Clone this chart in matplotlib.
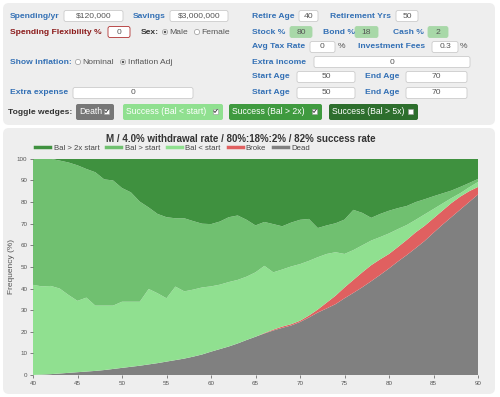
import matplotlib
matplotlib.use('Agg')
import matplotlib.pyplot as plt
from matplotlib.patches import FancyBboxPatch, Circle, Rectangle
from matplotlib.lines import Line2D

plt.rcParams['font.family'] = ['Liberation Sans', 'DejaVu Sans']

# dados do gráfico (frequência em % por idade)
idades = list(range(40, 91))
dead = [0, 0.2, 0.4, 0.7, 1.0, 1.3, 1.6, 1.9, 2.3, 2.8,
        3.3, 3.8, 4.3, 4.9, 5.5, 6.2, 6.9, 7.6, 8.5, 9.5,
        10.8, 12.0, 13.2, 14.6, 16.2, 17.7, 19.2, 20.6, 21.8, 22.9,
        24.5, 26.6, 28.9, 30.8, 32.8, 35.5, 38.0, 40.6, 43.4, 46.3,
        49.3, 52.5, 55.5, 58.7, 62.0, 65.8, 69.5, 73.0, 76.5, 80.0, 83.5]
broke = [0] * 26 + [0.2, 0.4, 0.6, 0.6, 0.6, 0.9, 1.4, 2.7, 3.9, 5.0,
                    6.0, 6.9, 7.4, 7.2, 6.7, 6.7, 7.0, 7.3, 7.0, 6.7,
                    6.5, 6.5, 6.0, 5.0, 3.5]
bal_menor = [41.7, 40.8, 40.8, 39.3, 36.0, 33.0, 34.2, 30.2, 29.8, 29.3,
             30.6, 30.1, 29.6, 34.9, 32.3, 29.3, 34.0, 31.1, 31.0, 31.0,
             30.2, 29.8, 29.8, 29.4, 29.3, 29.8, 31.1, 26.5, 26.4, 26.7,
             26.2, 25.3, 24.2, 22.5, 20.1, 15.5, 13.8, 12.5, 11.4, 10.3,
             9.5, 8.3, 6.9, 5.8, 5.3, 4.3, 3.3, 2.3, 1.6, 1.8, 2.3]
bal_maior = [58.3, 59.0, 58.8, 59.2, 61.3, 62.7, 59.5, 61.7, 58.4, 57.9,
             52.6, 50.6, 46.3, 37.7, 36.7, 37.5, 31.6, 33.8, 31.7, 29.5,
             28.8, 29.2, 30.0, 29.8, 26.3, 21.7, 20.3, 22.3, 20.0, 20.3,
             20.5, 19.4, 13.5, 13.2, 13.4, 15.9, 18.6, 15.0, 10.5, 10.7,
             10.5, 9.7, 8.8, 8.2, 7.0, 5.9, 4.7, 3.5, 2.9, 2.0, 1.4]
bal_2x = [0, 0, 0, 0.8, 1.7, 3.0, 4.7, 6.2, 9.5, 10.0,
          13.5, 15.5, 19.8, 22.5, 25.5, 27.0, 27.5, 27.5, 28.8, 30.0,
          30.2, 29.0, 27.0, 26.2, 28.2, 30.8, 29.2, 30.2, 31.2, 29.5,
          28.2, 27.8, 32.0, 30.8, 29.8, 28.1, 23.6, 25.0, 27.3, 25.5,
          24.0, 22.8, 21.8, 20.0, 18.7, 17.3, 16.0, 14.7, 13.0, 11.2, 9.3]

rotulos = ['Bal > 2x start', 'Bal > start', 'Bal < start', 'Broke', 'Dead']
cores = ['#3f913f', '#70c070', '#90e090', '#e06060', '#808080']
titulo = 'M / 4.0% withdrawal rate / 80%:18%:2% / 82% success rate'

azul = '#3370b5'
tam = 6.1

fig = plt.figure(figsize=(5, 3.97), dpi=100)
fundo = fig.add_axes([0, 0, 1, 1])
fundo.set_xlim(0, 500)
fundo.set_ylim(397, 0)
fundo.axis('off')

# paineis cinza
fundo.add_patch(FancyBboxPatch((3, 3), 492, 122, boxstyle='round,pad=0,rounding_size=6',
                               fc='#eeeeee', ec='none'))
fundo.add_patch(FancyBboxPatch((3, 128), 492, 266, boxstyle='round,pad=0,rounding_size=6',
                               fc='#eeeeee', ec='none'))


def rotulo(x, y, texto, cor=azul, peso='bold'):
    fundo.text(x, y, texto, color=cor, fontsize=tam, fontweight=peso, ha='left', va='center')


def caixa(x0, x1, y, texto, fc='white', ec='#cccccc'):
    fundo.add_patch(FancyBboxPatch((x0, y - 5.5), x1 - x0, 11, boxstyle='round,pad=0,rounding_size=2',
                                   fc=fc, ec=ec, lw=0.6))
    fundo.text((x0 + x1) / 2, y, texto, fontsize=tam, color='#555555', ha='center', va='center')


def radio(x, y, marcado):
    fundo.add_patch(Circle((x, y), 2.6, fc='white', ec='#999999', lw=0.5))
    if marcado:
        fundo.add_patch(Circle((x, y), 1.3, fc='#555555', ec='none'))


def botao(x0, x1, texto, cor, marcado=True):
    fundo.add_patch(FancyBboxPatch((x0, 104), x1 - x0, 16, boxstyle='round,pad=0,rounding_size=2',
                                   fc=cor, ec='none'))
    fundo.text(x0 + 3, 112, texto, fontsize=6.2, color='white', ha='left', va='center')
    fundo.add_patch(Rectangle((x1 - 10, 108.5), 5, 5, fc='white', ec='#999999', lw=0.4))
    if marcado:
        fundo.plot([x1 - 9.2, x1 - 8, x1 - 5.8], [111, 112.5, 109.5], color='#333333', lw=0.6)


# linha 1
rotulo(10, 16, 'Spending/yr')
caixa(64, 123, 16, '$120,000')
rotulo(133, 16, 'Savings')
caixa(170, 228, 16, '$3,000,000')
rotulo(252, 16, 'Retire Age')
caixa(299, 318, 16, '40')
rotulo(330, 16, 'Retirement Yrs')
caixa(396, 418, 16, '50')
# linha 2
rotulo(10, 32, 'Spending Flexibility %', cor='#8b1a1a')
caixa(108, 130, 32, '0', ec='#b03030')
rotulo(141, 32, 'Sex:', cor='#333333')
radio(165, 32, True)
rotulo(169.5, 32, 'Male', cor='#555555', peso='normal')
radio(197, 32, False)
rotulo(201.5, 32, 'Female', cor='#555555', peso='normal')
rotulo(252, 32, 'Stock %')
caixa(290, 312, 32, '80', fc='#a8d8a8', ec='#a8d8a8')
rotulo(323, 32, 'Bond %')
caixa(355, 378, 32, '18', fc='#a8d8a8', ec='#a8d8a8')
rotulo(393, 32, 'Cash %')
caixa(428, 448, 32, '2', fc='#a8d8a8', ec='#a8d8a8')
# linha 3
rotulo(252, 47, 'Avg Tax Rate')
caixa(310, 335, 47, '0')
rotulo(338, 47, '%', cor='#555555', peso='normal')
rotulo(358, 47, 'Investment Fees')
caixa(432, 458, 47, '0.3')
rotulo(460, 47, '%', cor='#555555', peso='normal')
# linha 4
rotulo(10, 62, 'Show inflation:')
radio(78, 62, False)
rotulo(82.5, 62, 'Nominal', cor='#555555', peso='normal')
radio(123, 62, True)
rotulo(127.5, 62, 'Inflation Adj', cor='#555555', peso='normal')
rotulo(252, 62, 'Extra income')
caixa(314, 470, 62, '0')
# linhas 5 e 6
for y in [77, 93]:
    rotulo(252, y, 'Start Age')
    caixa(297, 355, y, '50')
    rotulo(365, y, 'End Age')
    caixa(406, 467, y, '70')
rotulo(10, 93, 'Extra expense')
caixa(73, 193, 93, '0')
# botoes
rotulo(8, 112, 'Toggle wedges:', cor='#333333')
botao(76, 114, 'Death', '#777777')
botao(123, 223, 'Success (Bal < start)', '#90e090')
botao(229, 322, 'Success (Bal > 2x)', '#3f9a3f')
botao(329, 418, 'Success (Bal > 5x)', '#2d6e2d', marcado=False)

# grafico de area empilhada
ax = fig.add_axes([0.066, 0.0554, 0.89, 0.5445])
ax.stackplot(idades, dead, broke, bal_menor, bal_maior, bal_2x,
             colors=cores[::-1], linewidth=0)
ax.set_xlim(40, 90)
ax.set_ylim(0, 100)
ax.set_xticks(range(40, 91, 5))
ax.set_yticks(range(0, 101, 10))
ax.tick_params(labelsize=4.5, colors='#555555', length=2, width=0.5, pad=2)
for s in ax.spines.values():
    s.set_visible(False)
ax.set_ylabel('Frequency (%)', fontsize=6, color='#555555', labelpad=1.5)

alcas = [Line2D([], [], color=c, lw=2.5) for c in cores]
leg = ax.legend(alcas, rotulos, ncol=5, loc='center left', bbox_to_anchor=(0.005, 1.051),
                frameon=False, fontsize=5.6, handlelength=1.95, handletextpad=0.4,
                columnspacing=0.9, borderaxespad=0, borderpad=0)
for t in leg.get_texts():
    t.set_color('#444444')

fundo.text(241, 139, titulo, ha='center', va='center', fontsize=7,
           fontweight='bold', color='#333333')

fig.savefig('out.png', dpi=100)
